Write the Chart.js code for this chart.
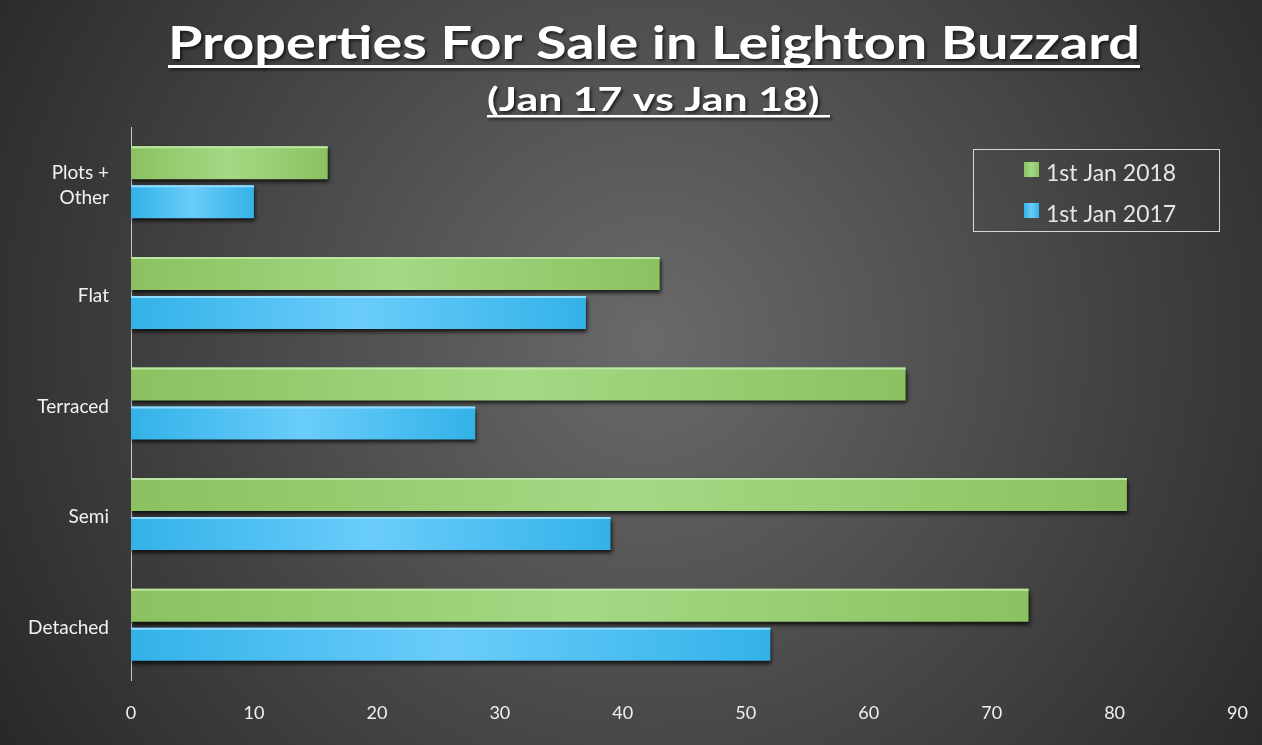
<!DOCTYPE html>
<html>
<head>
<meta charset="utf-8">
<script src="https://cdn.jsdelivr.net/npm/chart.js@4"></script>
<style>
  html, body { margin: 0; padding: 0; background: #333; }
  #wrap { width: 1262px; height: 745px; }
</style>
</head>
<body>
<div id="wrap"><canvas id="salesChart" width="1262" height="745"></canvas></div>
<script>
// chart data
const categories = [['Plots +', 'Other'], 'Flat', 'Terraced', 'Semi', 'Detached'];
const seriesNames = ['1st Jan 2018', '1st Jan 2017'];
const jan2018 = [16, 43, 63, 81, 73];
const jan2017 = [10, 37, 28, 39, 52];
const xMin = 0, xMax = 90, xStep = 10;
const titleText = 'Properties For Sale in Leighton Buzzard';
const subtitleText = '(Jan 17 vs Jan 18) ';

const FONT = 'Lato, "Open Sans", sans-serif';
const greenCols = { dark: '#8bc160', light: '#a4d985', top: '#bde6a2' };
const blueCols = { dark: '#33b2e8', light: '#6accfb', top: '#92dcff' };

function barGradient(cols) {
    return function (c) {
        const chart = c.chart;
        if (!chart.chartArea || c.raw === undefined) return cols.dark;
        const x0 = chart.scales.x.getPixelForValue(0);
        const x1 = chart.scales.x.getPixelForValue(c.raw);
        const g = chart.ctx.createLinearGradient(x0, 0, x1, 0);
        g.addColorStop(0, cols.dark);
        g.addColorStop(0.5, cols.light);
        g.addColorStop(1, cols.dark);
        return g;
    };
}

const backdrop = {
    id: 'backdrop',
    beforeDraw(chart) {
        const ctx = chart.ctx;
        const g = ctx.createRadialGradient(650, 340, 0, 650, 340, 780);
        g.addColorStop(0, '#6a6a6a');
        g.addColorStop(1, '#272727');
        ctx.save();
        ctx.fillStyle = g;
        ctx.fillRect(0, 0, chart.width, chart.height);
        ctx.restore();
    }
};

const barShadow = {
    id: 'barShadow',
    beforeDatasetsDraw(chart) {
        const ctx = chart.ctx;
        ctx.save();
        ctx.shadowColor = 'rgba(0,0,0,0.75)';
        ctx.shadowBlur = 4;
        ctx.shadowOffsetX = 1;
        ctx.shadowOffsetY = 3;
    },
    afterDatasetsDraw(chart) {
        const ctx = chart.ctx;
        ctx.restore();
        // thin highlight along the top of each bar
        chart.data.datasets.forEach((ds, i) => {
            const meta = chart.getDatasetMeta(i);
            meta.data.forEach(el => {
                const top = el.y - el.height / 2 + 1;
                ctx.save();
                ctx.strokeStyle = ds.topColor;
                ctx.lineWidth = 2;
                ctx.beginPath();
                ctx.moveTo(el.base, top);
                ctx.lineTo(el.x, top);
                ctx.stroke();
                ctx.restore();
            });
        });
    }
};

// draws bold text stretched to a target width, with an underline below it
function underlinedText(ctx, text, left, width, baseline, size, lineY, lineW) {
    ctx.font = 'bold ' + size + 'px ' + FONT;
    const w = ctx.measureText(text).width;
    ctx.save();
    ctx.translate(left, 0);
    ctx.scale(width / w, 1);
    ctx.shadowColor = 'rgba(0,0,0,0.6)';
    ctx.shadowOffsetX = 2;
    ctx.shadowOffsetY = 2;
    ctx.shadowBlur = 3;
    ctx.fillStyle = '#ffffff';
    ctx.textAlign = 'left';
    ctx.textBaseline = 'alphabetic';
    ctx.fillText(text, 0, baseline);
    ctx.fillRect(0, lineY, w, lineW);
    ctx.restore();
}

const titles = {
    id: 'titles',
    afterDraw(chart) {
        const ctx = chart.ctx;
        underlinedText(ctx, titleText, 168, 972, 59, 46, 65, 3);
        underlinedText(ctx, subtitleText, 487, 343, 111, 32, 115, 2.5);
    }
};

const boxLegend = {
    id: 'boxLegend',
    afterDraw(chart) {
        const ctx = chart.ctx;
        ctx.save();
        ctx.strokeStyle = '#d8d8d8';
        ctx.lineWidth = 1;
        ctx.strokeRect(973.5, 149.5, 246, 82);
        ctx.font = '23px ' + FONT;
        ctx.textBaseline = 'alphabetic';
        const rows = [{ y: 181, cols: greenCols }, { y: 222, cols: blueCols }];
        chart.data.datasets.forEach((ds, i) => {
            const r = rows[i];
            const g = ctx.createLinearGradient(1024, 0, 1039, 0);
            g.addColorStop(0, r.cols.dark);
            g.addColorStop(0.5, r.cols.light);
            g.addColorStop(1, r.cols.dark);
            ctx.fillStyle = g;
            ctx.fillRect(1024, r.y - 19, 15, 15);
            ctx.fillStyle = '#e6e6e6';
            ctx.fillText(ds.label, 1046, r.y);
        });
        ctx.restore();
    }
};

const chart = new Chart(document.getElementById('salesChart'), {
    type: 'bar',
    data: {
        labels: categories,
        datasets: [
            {
                label: seriesNames[0],
                data: jan2018,
                backgroundColor: barGradient(greenCols),
                topColor: greenCols.top,
                categoryPercentage: 0.705,
                barPercentage: 0.846
            },
            {
                label: seriesNames[1],
                data: jan2017,
                backgroundColor: barGradient(blueCols),
                topColor: blueCols.top,
                categoryPercentage: 0.705,
                barPercentage: 0.846
            }
        ]
    },
    options: {
        indexAxis: 'y',
        responsive: false,
        animation: false,
        layout: { padding: { top: 127, right: 20, left: 0, bottom: 0 } },
        plugins: {
            legend: { display: false },
            title: { display: false },
            tooltip: { enabled: false }
        },
        scales: {
            x: {
                min: xMin,
                max: xMax,
                ticks: {
                    stepSize: xStep,
                    color: '#f0f0f0',
                    font: { family: FONT, size: 18 },
                    padding: 14
                },
                grid: { display: false },
                border: { display: false },
                afterFit(scale) { scale.height = 65; }
            },
            y: {
                ticks: {
                    color: '#f2f2f2',
                    font: { family: FONT, size: 19, lineHeight: 1.3 },
                    padding: 14,
                    labelOffset: 3
                },
                grid: { display: false },
                border: { display: true, color: '#c8c8c8', width: 1 },
                afterFit(scale) { scale.width = 131; }
            }
        }
    },
    plugins: [backdrop, barShadow, titles, boxLegend]
});
</script>
</body>
</html>
